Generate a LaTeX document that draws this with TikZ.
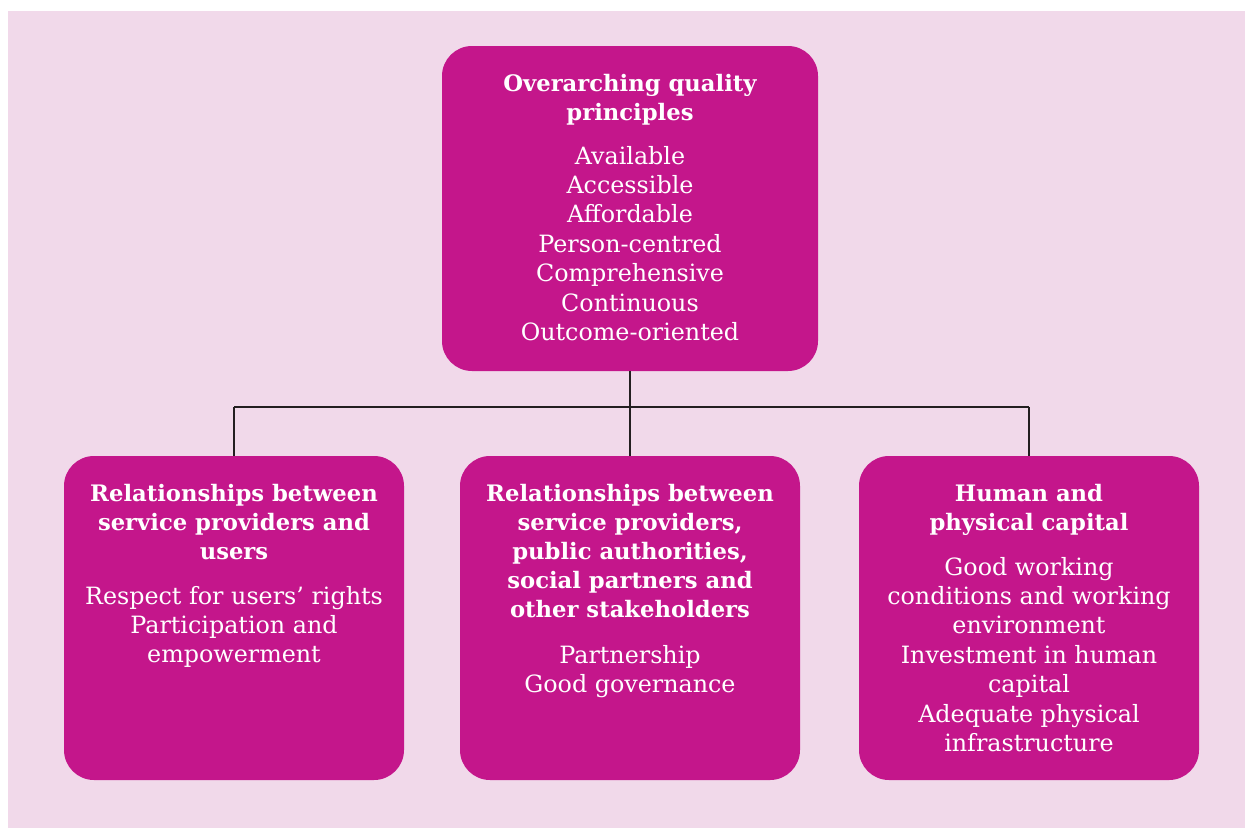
\documentclass[tikz,border=0pt]{standalone}
\usepackage{fontspec}
\setmainfont{DejaVu Serif}
\usetikzlibrary{calc}
\definecolor{bgpink}{RGB}{241,217,234}
\definecolor{boxmag}{RGB}{196,22,139}
\definecolor{linedark}{RGB}{35,31,32}
\tikzset{
  box/.style={fill=boxmag, draw=none, rounded corners=30pt, minimum width=340pt, minimum height=324pt, inner sep=0pt},
  topbox/.style={box, minimum width=376pt, minimum height=325pt},
  ttl/.style={text=white, font=\fontsize{22.7}{29}\selectfont\bfseries, inner sep=0pt, anchor=base},
  itm/.style={text=white, font=\fontsize{23.8}{29}\selectfont, inner sep=0pt, anchor=base},
  conn/.style={draw=linedark, line width=2.8pt}
}
\begin{document}
\begin{tikzpicture}[x=1pt,y=-1pt]
\useasboundingbox (0,0) rectangle (1245,828);
\fill[white] (0,0) rectangle (1245,828);
\fill[bgpink] (8,11) rectangle (1245,828);
\node[topbox] (top) at (630,208.5) {};
\node[box] (b1) at (234,618) {};
\node[box] (b2) at (630,618) {};
\node[box] (b3) at (1029,618) {};
\coordinate (j) at (630,407);
\coordinate (jl) at (234,407);
\coordinate (jr) at (1029,407);
\draw[conn] (top.south) -- (j);
\draw[conn] (jl) -- (jr);
\draw[conn] (jl) -- (b1.north);
\draw[conn] (j) -- (b2.north);
\draw[conn] (jr) -- (b3.north);
% top
\foreach \t [count=\i] in {Overarching quality, principles}
  \node[ttl] (tt\i) at (630,{91+(\i-1)*29.5}) {\t};
\foreach \t [count=\i] in {Available, Accessible, Affordable, Person-centred, Comprehensive, Continuous, Outcome-oriented}
  \node[itm] (ti\i) at (630,{164+(\i-1)*29.4}) {\t};
% box 1
\foreach \t [count=\i] in {Relationships between, service providers and, users}
  \node[ttl] (at\i) at (234,{501+(\i-1)*29.2}) {\t};
\foreach \t [count=\i] in {Respect for users’ rights, Participation and, empowerment}
  \node[itm] (ai\i) at (234,{604+(\i-1)*29.4}) {\t};
% box 2
\foreach \t [count=\i] in {Relationships between, {service providers,}, {public authorities,}, social partners and, other stakeholders}
  \node[ttl] (bt\i) at (630,{501+(\i-1)*29.2}) {\t};
\foreach \t [count=\i] in {Partnership, Good governance}
  \node[itm] (bi\i) at (630,{663+(\i-1)*29.4}) {\t};
% box 3
\foreach \t [count=\i] in {Human and, physical capital}
  \node[ttl] (ct\i) at (1029,{501+(\i-1)*29.2}) {\t};
\foreach \t [count=\i] in {Good working, conditions and working, environment, Investment in human, capital, Adequate physical, infrastructure}
  \node[itm] (ci\i) at (1029,{575+(\i-1)*29.4}) {\t};
\end{tikzpicture}
\end{document}
